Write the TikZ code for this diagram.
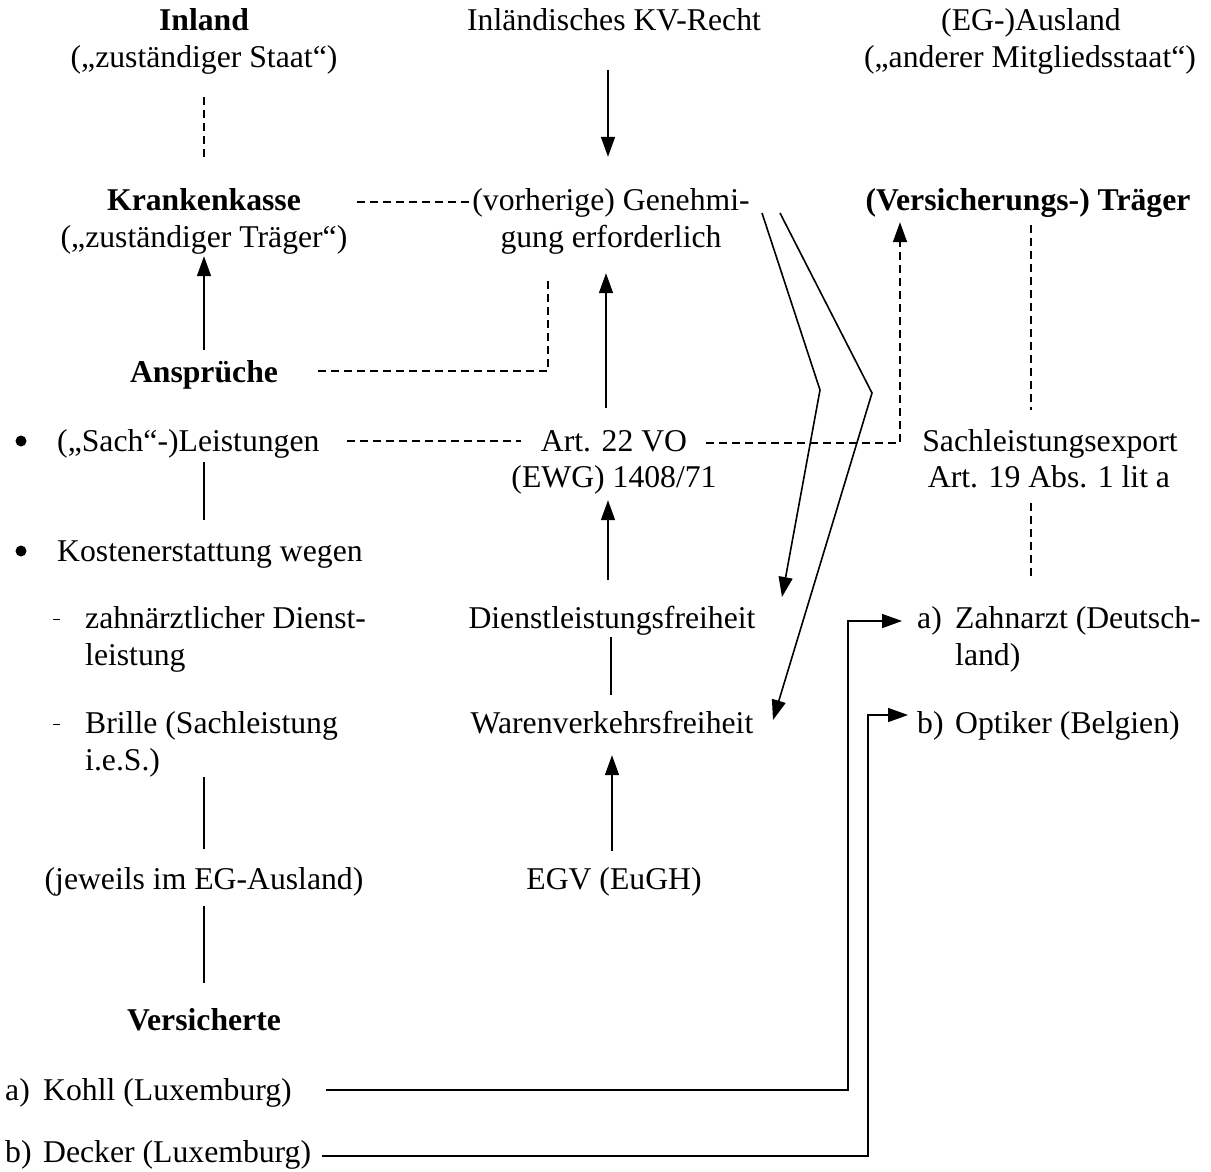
\documentclass[tikz,border=0pt]{standalone}
\usepackage{fontspec}
\setmainfont{Liberation Serif}
\usetikzlibrary{arrows.meta}
\begin{document}
\begin{tikzpicture}[x=1pt,y=-1pt,
  lbl/.style={inner sep=0pt, anchor=base, font=\fontsize{31.7pt}{37pt}\selectfont,
              text height=22pt, text depth=7pt},
  lblw/.style={lbl, anchor=base west},
  dot/.style={circle, fill, inner sep=0pt, minimum size=11pt},
  link/.style={line width=1.6pt},
  dashlink/.style={line width=1.5pt, dash pattern=on 8pt off 5pt},
  arr/.style={-{Triangle[length=20pt,width=14pt]}},
]
\path[use as bounding box] (0,0) rectangle (1211,1171);

% ---- left column: home state
\node[lbl] (inl) at (204,30) {\textbf{Inland}};
\node[lbl] (inlst) at (204,67) {(„zuständiger Staat“)};
\node[lbl] (kk) at (204,210) {\textbf{Krankenkasse}};
\node[lbl] (kktr) at (204,247) {(„zuständiger Träger“)};
\node[lbl] (ans) at (204,382) {\textbf{Ansprüche}};
\node[dot] (bul1) at (21,441) {};
\node[lblw] (leist) at (57,451) {(„Sach“-)Leistungen};
\node[dot] (bul2) at (21,551) {};
\node[lblw] (kost) at (57,561) {Kostenerstattung wegen};
\node[lblw] (dsh1) at (53,628) {\rule[8pt]{7pt}{1.4pt}};
\node[lblw] (zahn1) at (85,628) {zahnärztlicher Dienst-};
\node[lblw] (zahn2) at (85,665) {leistung};
\node[lblw] (dsh2) at (53,733) {\rule[8pt]{7pt}{1.4pt}};
\node[lblw] (brille1) at (85,733) {Brille (Sachleistung};
\node[lblw] (brille2) at (85,770) {i.e.S.)};
\node[lbl] (jew) at (204,889) {(jeweils im EG-Ausland)};
\node[lbl] (vers) at (204,1030) {\textbf{Versicherte}};
\node[lblw] (kA) at (5,1100) {a)};
\node[lblw] (kohll) at (43,1100) {Kohll (Luxemburg)};
\node[lblw] (dB) at (5,1162) {b)};
\node[lblw] (decker) at (43,1162) {Decker (Luxemburg)};

% ---- middle column: legal basis
\node[lbl] (kv) at (614,30) {Inländisches KV-Recht};
\node[lbl] (gen1) at (611,210) {(vorherige) Genehmi-};
\node[lbl] (gen2) at (611,247) {gung erforderlich};
\node[lbl] (art22a) at (614,451) {Art. 22 VO};
\node[lbl] (art22b) at (614,487) {(EWG) 1408/71};
\node[lbl] (dlf) at (612,628) {Dienstleistungsfreiheit};
\node[lbl] (wvf) at (612,733) {Warenverkehrsfreiheit};
\node[lbl] (egv) at (614,889) {EGV (EuGH)};

% ---- right column: other member state
\node[lbl] (ausl) at (1031,30) {(EG-)Ausland};
\node[lbl] (ausmit) at (1030,67) {(„anderer Mitgliedsstaat“)};
\node[lbl] (vt) at (1028,210) {\textbf{(Versicherungs-) Träger}};
\node[lbl] (sle1) at (1050,451) {Sachleistungsexport};
\node[lbl] (sle2) at (1049,487) {Art. 19 Abs. 1 lit a};
\node[lblw] (zaA) at (917,628) {a)};
\node[lblw] (zahnarzt1) at (955,628) {Zahnarzt (Deutsch-};
\node[lblw] (zahnarzt2) at (955,665) {land)};
\node[lblw] (opB) at (917,733) {b)};
\node[lblw] (opt) at (955,733) {Optiker (Belgien)};

% bends of the two chevron arrows
\coordinate (knee1) at (820,390);
\coordinate (knee2) at (872,393);

% ---- connectors, left column
\draw[dashlink, shorten <=23pt, shorten >=31pt] (inlst.south) -- (kk.north);
\draw[link, arr, shorten <=10pt, shorten >=2pt] (ans.north) -- (kktr.south);
\coordinate (lk) at ([xshift=147pt]leist.south west);
\draw[link, shorten <=4pt, shorten >=19pt] (lk) -- (lk |- kost.north);
\draw[link, shorten >=18pt] (jew.north |- brille2.south) -- (jew.north);
\draw[link, shorten <=10pt, shorten >=25pt] (jew.south) -- (vers.north);

% ---- connectors, middle column
\draw[link, arr, shorten <=33pt, shorten >=31pt] ([xshift=-6pt]kv.south) -- ([xshift=-3pt]gen1.north);
\draw[link, arr, shorten <=21pt, shorten >=19pt] ([xshift=-8pt]art22a.north) -- ([xshift=-5pt]gen2.south);
\draw[link, arr, shorten <=26pt, shorten >=6pt] ([xshift=-4pt]dlf.north) -- ([xshift=-6pt]art22b.south);
\draw[link, shorten <=2pt, shorten >=16pt] ([xshift=-1pt]dlf.south) -- ([xshift=-1pt]wvf.north);
\draw[link, arr, shorten <=16pt, shorten >=15pt] ([xshift=-2pt]egv.north) -- (wvf.south);

% ---- dashed cross links
\draw[dashlink] ([xshift=153pt,yshift=8pt]kk.base) -- ([xshift=-141pt,yshift=8pt]gen1.base);
\draw[dashlink] ([xshift=114pt,yshift=11pt]ans.base) -| ([xshift=-63pt,yshift=-24pt]gen2.south);
\draw[dashlink] ([xshift=290pt,yshift=10pt]leist.base west) -- ([xshift=-93pt,yshift=10pt]art22a.base);
\draw[dashlink, arr] ([xshift=92pt,yshift=8pt]art22a.base) -| ([xshift=-128pt,yshift=-5pt]vt.south);
\draw[dashlink] ([xshift=3pt,yshift=-8pt]vt.south) -- ([xshift=-19pt,yshift=19pt]sle1.north);
\coordinate (s2) at ([xshift=-18pt,yshift=-9pt]sle2.south);
\draw[dashlink, shorten >=26pt] (s2) -- (s2 |- zahnarzt1.north);

% ---- chevrons from the authorisation to the two freedoms
\draw[link, arr] ([xshift=151pt,yshift=-3pt]gen1.base) -- (knee1) -- ([xshift=170pt,yshift=31pt]dlf.base);
\draw[link, arr] ([xshift=169pt,yshift=-3pt]gen1.base) -- (knee2) -- ([xshift=161pt,yshift=13pt]wvf.base);

% ---- the two cases to their providers
\draw[link, arr] ([xshift=34pt,yshift=10pt]kohll.base east) -| ([xshift=-69pt,yshift=7pt]zaA.base west) -- ([xshift=-15pt,yshift=7pt]zaA.base west);
\draw[link, arr] ([xshift=11pt,yshift=6pt]decker.base east) -| ([xshift=-49pt,yshift=18pt]opB.base west) -- ([xshift=-9pt,yshift=18pt]opB.base west);
\end{tikzpicture}
\end{document}
